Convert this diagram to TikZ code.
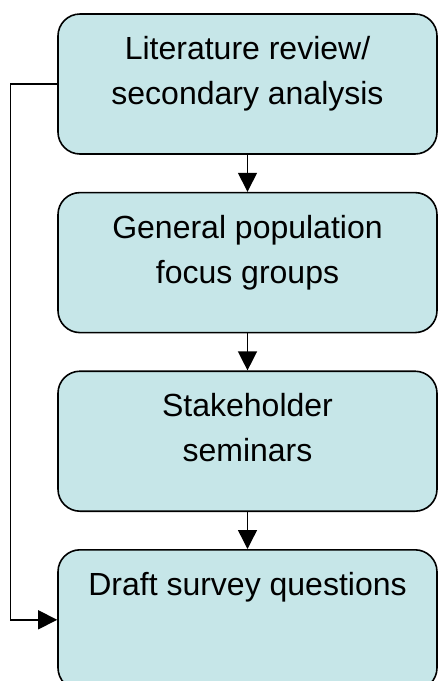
\documentclass[tikz,border=0pt]{standalone}
\usepackage{fontspec}
\setmainfont{Liberation Sans}
\usepackage{tikz}
\usetikzlibrary{arrows.meta, positioning}
\usepackage{xcolor}
\definecolor{boxcyan}{RGB}{198,230,232}

\begin{document}
\begin{tikzpicture}[x=1pt, y=-1pt,
    stage/.style={rectangle, draw, fill=boxcyan, line width=1.6pt, minimum width=379pt, minimum height=140pt, inner sep=0pt, rounded corners=22pt},
    txt/.style={align=center, inner sep=0pt, font=\fontsize{32}{45}\selectfont},
    arr/.style={-{Triangle[length=19pt, width=19pt]}, line width=1.4pt},
    node distance=37pt
]
\useasboundingbox (0,0) rectangle (438,681);

\node[stage] (lit) at (247.5,84) {};
\node[stage, below=of lit] (focus) {};
\node[stage, below=of focus] (seminar) {};
\node[stage, below=of seminar] (draft) {};

\node[txt, below=23pt of lit.north] (littxt) {Literature review/\\secondary analysis};
\node[txt, below=23pt of focus.north] (focustxt) {General population\\focus groups};
\node[txt, below=23pt of seminar.north] (seminartxt) {Stakeholder\\seminars};
\node[txt, below=23pt of draft.north] (drafttxt) {Draft survey questions};

\draw[arr] (lit) -- (focus);
\draw[arr] (focus) -- (seminar);
\draw[arr] (seminar) -- (draft);

% review feeds straight into the draft as well
\draw[arr] (lit.west) -- ++(-47pt,0) |- (draft.west);
\end{tikzpicture}
\end{document}
